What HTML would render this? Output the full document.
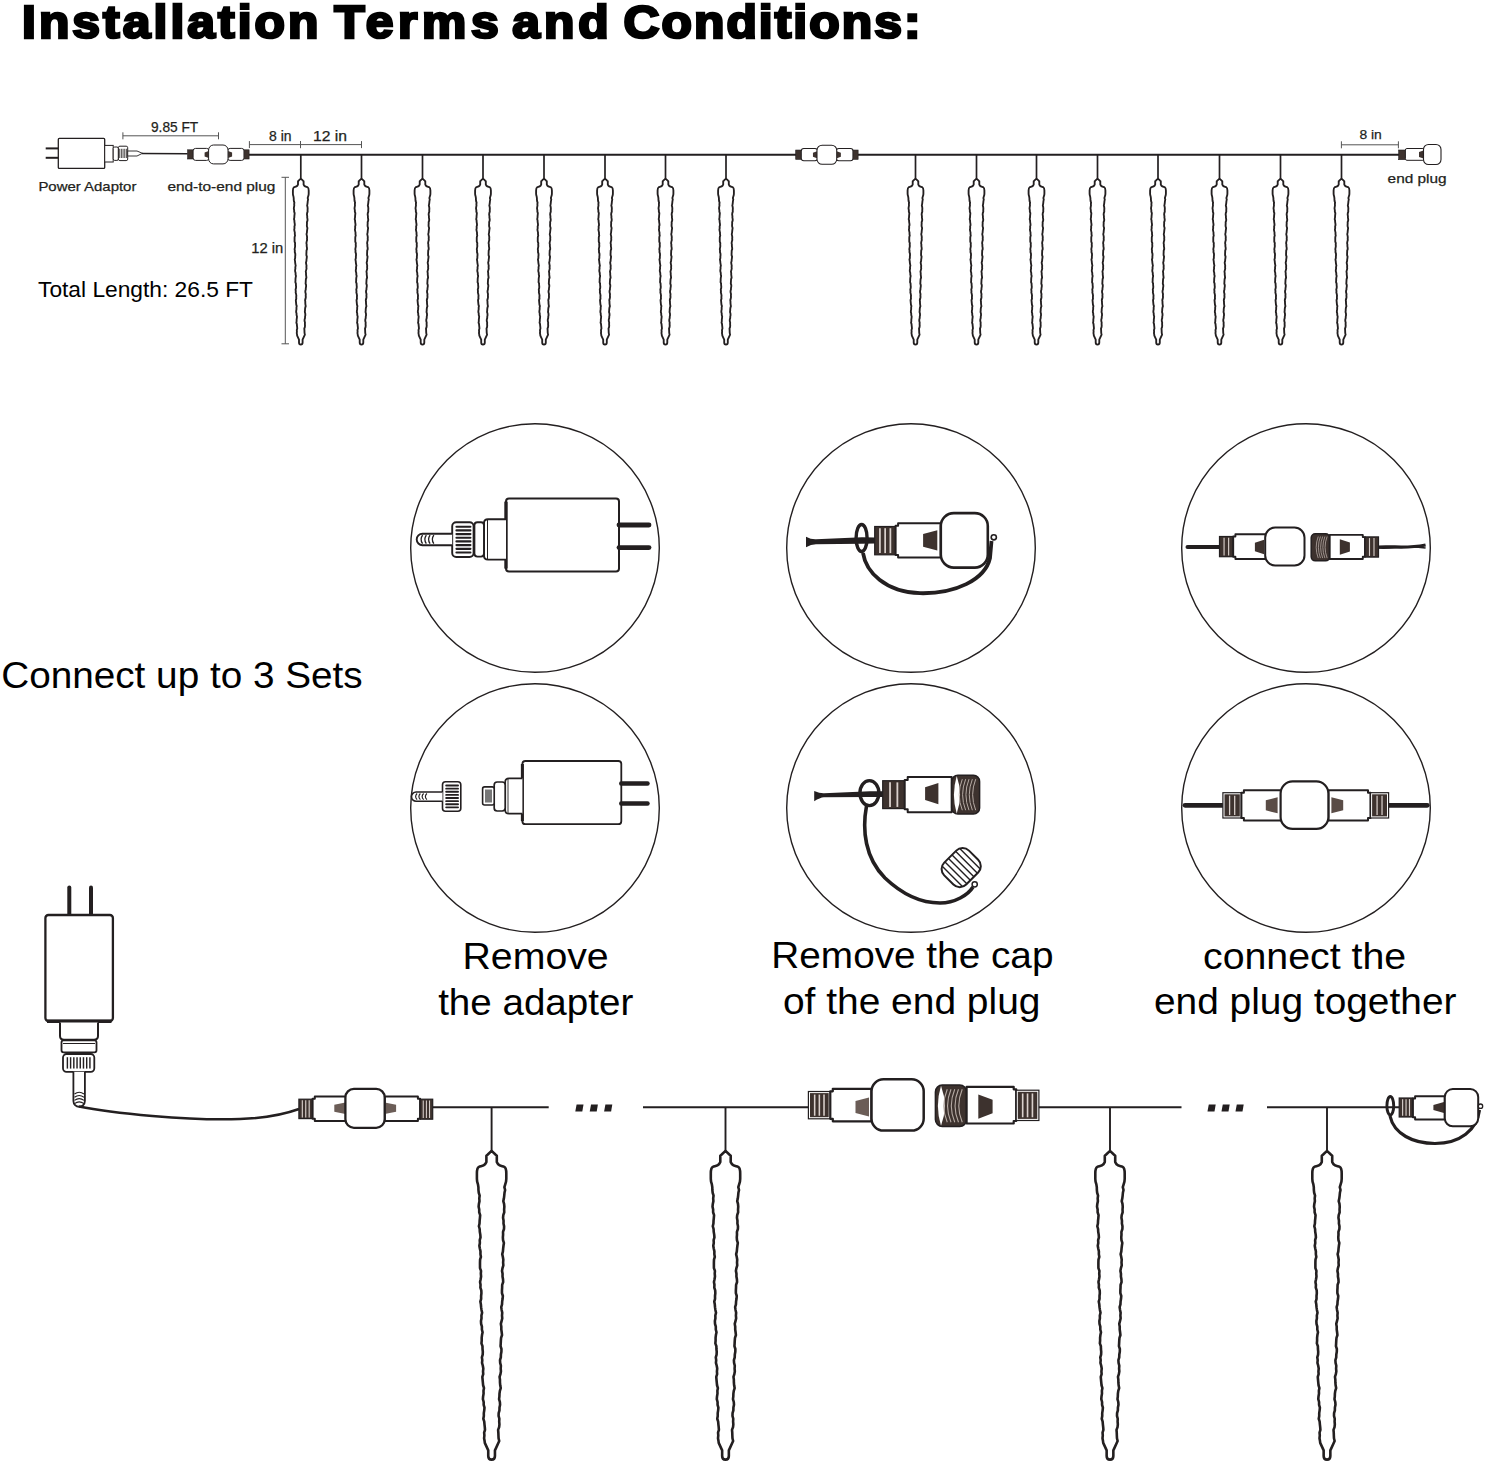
<!DOCTYPE html>
<html><head><meta charset="utf-8"><style>
html,body{margin:0;padding:0;background:#fff;}
svg{display:block;}
#ic{fill:#fff;stroke:#231f20;stroke-linejoin:round;}
text{font-family:"Liberation Sans", sans-serif;}
</style></head><body>
<svg width="1486" height="1464" viewBox="0 0 1486 1464">
<defs><path id="ic" d="M0 0 L2.2 2.1 L2.8 2.6 L2.8 6 L3.6 7.3 C4.3 8.1 5.8 8.2 6.8 8.6 C7.7 9.1 7.9 10.5 7.9 12 L7.90 12.0 L7.90 13.5 L7.90 15.0 L7.76 16.5 L7.33 18.0 L6.88 19.5 L7.27 21.0 L6.94 22.5 L6.80 24.0 L6.62 25.5 L6.30 27.0 L6.71 28.5 L6.85 30.0 L6.74 31.5 L6.80 33.0 L6.29 34.5 L6.15 36.0 L6.44 37.5 L6.40 39.0 L6.71 40.5 L6.66 42.0 L6.14 43.5 L6.18 45.0 L6.06 46.5 L6.16 48.0 L6.62 49.5 L6.39 51.0 L6.21 52.5 L6.09 54.0 L5.72 55.5 L6.06 57.0 L6.30 58.5 L6.19 60.0 L6.31 61.5 L5.87 63.0 L5.60 64.5 L5.90 66.0 L5.87 67.5 L6.14 69.0 L6.22 70.5 L5.69 72.0 L5.66 73.5 L5.57 75.0 L5.57 76.5 L6.06 78.0 L5.92 79.5 L5.68 81.0 L5.61 82.5 L5.18 84.0 L5.40 85.5 L5.72 87.0 L5.59 88.5 L5.73 90.0 L5.36 91.5 L4.97 93.0 L5.23 94.5 L5.22 96.0 L5.43 97.5 L5.61 99.0 L5.10 100.5 L4.98 102.0 L4.91 103.5 L4.81 105.0 L5.30 106.5 L5.27 108.0 L5.00 109.5 L4.96 111.0 L4.52 112.5 L4.61 114.0 L5.00 115.5 L4.89 117.0 L5.02 118.5 L4.76 120.0 L4.28 121.5 L4.49 123.0 L4.50 124.5 L4.64 126.0 L4.92 127.5 L4.45 129.0 L4.24 130.5 L4.20 132.0 L4.02 133.5 L4.46 135.0 L4.56 136.5 L4.25 138.0 L4.23 139.5 L3.80 141.0 L3.76 142.5 L4.17 144.0 L4.09 145.5 L4.21 147.0 L4.05 148.5 L3.50 150.0 L3.63 151.5 L3.68 153.0 L3.75 154.5 L4.10 156.0 L1.8 161 L1.8 164 C1.8 165.4 1 166 0 166 C-1 166 -1.8 165.4 -1.8 164 L-1.8 161 L-3.65 157 L-3.76 156.0 L-4.04 154.5 L-3.88 153.0 L-4.01 151.5 L-3.55 150.0 L-3.66 148.5 L-3.83 147.0 L-3.95 145.5 L-4.44 144.0 L-4.17 142.5 L-4.19 141.0 L-3.96 139.5 L-3.82 138.0 L-4.26 136.5 L-4.26 135.0 L-4.68 133.5 L-4.57 132.0 L-4.31 130.5 L-4.36 129.0 L-4.08 127.5 L-4.55 126.0 L-4.70 124.5 L-4.84 123.0 L-4.97 121.5 L-4.50 120.0 L-4.61 118.5 L-4.46 117.0 L-4.72 115.5 L-5.14 114.0 L-5.01 112.5 L-5.22 111.0 L-4.79 109.5 L-4.72 108.0 L-4.88 106.5 L-4.90 105.0 L-5.45 103.5 L-5.32 102.0 L-5.33 100.5 L-5.16 99.0 L-4.84 97.5 L-5.22 96.0 L-5.21 94.5 L-5.63 93.0 L-5.71 91.5 L-5.42 90.0 L-5.47 88.5 L-5.10 87.0 L-5.42 85.5 L-5.64 84.0 L-5.76 82.5 L-6.05 81.0 L-5.62 79.5 L-5.64 78.0 L-5.47 76.5 L-5.54 75.0 L-6.03 73.5 L-5.95 72.0 L-6.21 70.5 L-5.90 69.0 L-5.66 67.5 L-5.79 66.0 L-5.68 64.5 L-6.23 63.0 L-6.24 61.5 L-6.24 60.0 L-6.19 58.5 L-5.74 57.0 L-6.00 55.5 L-5.97 54.0 L-6.32 52.5 L-6.58 51.0 L-6.30 49.5 L-6.38 48.0 L-5.96 46.5 L-6.08 45.0 L-6.34 43.5 L-6.41 42.0 L-6.83 40.5 L-6.49 39.0 L-6.43 37.5 L-6.27 36.0 L-6.15 34.5 L-6.66 33.0 L-6.65 31.5 L-6.97 30.0 L-6.83 28.5 L-6.51 27.0 L-6.62 25.5 L-6.42 24.0 L-6.90 22.5 L-7.07 21.0 L-7.09 19.5 L-7.33 18.0 L-7.76 16.5 L-7.90 15.0 L-7.90 13.5 L-7.90 12.0 L-7.9 12 C-7.9 10.5 -7.7 9.1 -6.8 8.6 C-5.8 8.2 -4.3 8.1 -3.6 7.3 L-2.8 6 L-2.8 2.6 L-2.2 2.1 Z"/></defs>
<rect width="1486" height="1464" fill="#fff"/>
<line x1="249" y1="154.7" x2="1399" y2="154.7" stroke="#231f20" stroke-width="1.95"/>
<line x1="300.8" y1="154.7" x2="300.8" y2="178.5" stroke="#231f20" stroke-width="1.7"/>
<use href="#ic" transform="translate(300.8 178.6) scale(1.0)" stroke-width="1.850"/>
<line x1="361.5" y1="154.7" x2="361.5" y2="178.5" stroke="#231f20" stroke-width="1.7"/>
<use href="#ic" transform="translate(361.5 178.6) scale(1.0)" stroke-width="1.850"/>
<line x1="422.5" y1="154.7" x2="422.5" y2="178.5" stroke="#231f20" stroke-width="1.7"/>
<use href="#ic" transform="translate(422.5 178.6) scale(1.0)" stroke-width="1.850"/>
<line x1="483" y1="154.7" x2="483" y2="178.5" stroke="#231f20" stroke-width="1.7"/>
<use href="#ic" transform="translate(483 178.6) scale(1.0)" stroke-width="1.850"/>
<line x1="544" y1="154.7" x2="544" y2="178.5" stroke="#231f20" stroke-width="1.7"/>
<use href="#ic" transform="translate(544 178.6) scale(1.0)" stroke-width="1.850"/>
<line x1="605" y1="154.7" x2="605" y2="178.5" stroke="#231f20" stroke-width="1.7"/>
<use href="#ic" transform="translate(605 178.6) scale(1.0)" stroke-width="1.850"/>
<line x1="665.5" y1="154.7" x2="665.5" y2="178.5" stroke="#231f20" stroke-width="1.7"/>
<use href="#ic" transform="translate(665.5 178.6) scale(1.0)" stroke-width="1.850"/>
<line x1="726" y1="154.7" x2="726" y2="178.5" stroke="#231f20" stroke-width="1.7"/>
<use href="#ic" transform="translate(726 178.6) scale(1.0)" stroke-width="1.850"/>
<line x1="915.5" y1="154.7" x2="915.5" y2="178.5" stroke="#231f20" stroke-width="1.7"/>
<use href="#ic" transform="translate(915.5 178.6) scale(1.0)" stroke-width="1.850"/>
<line x1="976.5" y1="154.7" x2="976.5" y2="178.5" stroke="#231f20" stroke-width="1.7"/>
<use href="#ic" transform="translate(976.5 178.6) scale(1.0)" stroke-width="1.850"/>
<line x1="1036.5" y1="154.7" x2="1036.5" y2="178.5" stroke="#231f20" stroke-width="1.7"/>
<use href="#ic" transform="translate(1036.5 178.6) scale(1.0)" stroke-width="1.850"/>
<line x1="1097.5" y1="154.7" x2="1097.5" y2="178.5" stroke="#231f20" stroke-width="1.7"/>
<use href="#ic" transform="translate(1097.5 178.6) scale(1.0)" stroke-width="1.850"/>
<line x1="1158" y1="154.7" x2="1158" y2="178.5" stroke="#231f20" stroke-width="1.7"/>
<use href="#ic" transform="translate(1158 178.6) scale(1.0)" stroke-width="1.850"/>
<line x1="1219.5" y1="154.7" x2="1219.5" y2="178.5" stroke="#231f20" stroke-width="1.7"/>
<use href="#ic" transform="translate(1219.5 178.6) scale(1.0)" stroke-width="1.850"/>
<line x1="1280.5" y1="154.7" x2="1280.5" y2="178.5" stroke="#231f20" stroke-width="1.7"/>
<use href="#ic" transform="translate(1280.5 178.6) scale(1.0)" stroke-width="1.850"/>
<line x1="1341.5" y1="154.7" x2="1341.5" y2="178.5" stroke="#231f20" stroke-width="1.7"/>
<use href="#ic" transform="translate(1341.5 178.6) scale(1.0)" stroke-width="1.850"/>
<rect x="58.3" y="138.4" width="46.4" height="30" rx="1" fill="#fff" stroke="#231f20" stroke-width="1.3"/>
<line x1="45.7" y1="148.4" x2="58.3" y2="148.4" stroke="#231f20" stroke-width="2"/>
<line x1="45.7" y1="157.8" x2="58.3" y2="157.8" stroke="#231f20" stroke-width="2"/>
<rect x="104.7" y="145.4" width="8.5" height="16.6" fill="#fff" stroke="#231f20" stroke-width="1"/>
<rect x="113.2" y="147" width="5.2" height="13.4" rx="1.5" fill="#fff" stroke="#231f20" stroke-width="1"/>
<rect x="118.4" y="146.2" width="9.299999999999997" height="14.400000000000006" rx="1.5" fill="#fff" stroke="#231f20" stroke-width="1.0"/>
<line x1="119.70" y1="148.792" x2="119.70" y2="158.00799999999998" stroke="#231f20" stroke-width="0.80"/>
<line x1="121.38" y1="148.792" x2="121.38" y2="158.00799999999998" stroke="#231f20" stroke-width="0.80"/>
<line x1="123.05" y1="148.792" x2="123.05" y2="158.00799999999998" stroke="#231f20" stroke-width="0.80"/>
<line x1="124.72" y1="148.792" x2="124.72" y2="158.00799999999998" stroke="#231f20" stroke-width="0.80"/>
<line x1="126.40" y1="148.792" x2="126.40" y2="158.00799999999998" stroke="#231f20" stroke-width="0.80"/>
<path d="M127.7 151 L137 151 L142.5 153.3 L137 156 L127.7 156Z" fill="#fff" stroke="#231f20" stroke-width="0.9"/>
<path d="M142 153.5 L187.6 153.8" stroke="#231f20" stroke-width="1.5"/>
<g transform="translate(187.6 154.4) scale(1.0)">
<rect x="0" y="-4.6" width="5.7" height="9.2" fill="#3d322e" stroke="#231f20" stroke-width="0.6"/>
<rect x="5.5" y="-6" width="16" height="12" rx="2.5" fill="#fff" stroke="#231f20" stroke-width="1"/>
<rect x="40" y="-6" width="16.5" height="12" rx="2.5" fill="#fff" stroke="#231f20" stroke-width="1"/>
<rect x="56.5" y="-4.6" width="5" height="9.2" fill="#3d322e" stroke="#231f20" stroke-width="0.6"/>
<path d="M17 -2 L21 -3.5 L21 3.5 L17 2Z" fill="#3d322e"/>
<path d="M44.5 -2 L40.5 -3.5 L40.5 3.5 L44.5 2Z" fill="#3d322e"/>
<rect x="21" y="-9.4" width="19.4" height="18.9" rx="5" fill="#fff" stroke="#231f20" stroke-width="1"/>
</g>
<g transform="translate(795.7 154.7) scale(1.015)">
<rect x="0" y="-4.6" width="5.7" height="9.2" fill="#3d322e" stroke="#231f20" stroke-width="0.6"/>
<rect x="5.5" y="-6" width="16" height="12" rx="2.5" fill="#fff" stroke="#231f20" stroke-width="1"/>
<rect x="40" y="-6" width="16.5" height="12" rx="2.5" fill="#fff" stroke="#231f20" stroke-width="1"/>
<rect x="56.5" y="-4.6" width="5" height="9.2" fill="#3d322e" stroke="#231f20" stroke-width="0.6"/>
<path d="M17 -2 L21 -3.5 L21 3.5 L17 2Z" fill="#3d322e"/>
<path d="M44.5 -2 L40.5 -3.5 L40.5 3.5 L44.5 2Z" fill="#3d322e"/>
<rect x="21" y="-9.4" width="19.4" height="18.9" rx="5" fill="#fff" stroke="#231f20" stroke-width="1"/>
</g>
<rect x="1398.7" y="150" width="6.7" height="9.7" fill="#3d322e" stroke="#231f20" stroke-width="0.6"/>
<rect x="1405.4" y="148.5" width="19" height="11.8" rx="1.5" fill="#fff" stroke="#231f20" stroke-width="1"/>
<path d="M1419 152 L1423.5 150.5 L1423.5 158.5 L1419 157Z" fill="#3d322e"/>
<rect x="1423.5" y="144.5" width="17.5" height="20" rx="5" fill="#fff" stroke="#231f20" stroke-width="1.1"/>
<line x1="122.9" y1="135.8" x2="218.5" y2="135.8" stroke="#555" stroke-width="1"/>
<line x1="122.9" y1="132.3" x2="122.9" y2="139.3" stroke="#555" stroke-width="1"/>
<line x1="218.5" y1="132.3" x2="218.5" y2="139.3" stroke="#555" stroke-width="1"/>
<line x1="249.4" y1="144.6" x2="300.5" y2="144.6" stroke="#555" stroke-width="1"/>
<line x1="249.4" y1="141.1" x2="249.4" y2="148.1" stroke="#555" stroke-width="1"/>
<line x1="300.5" y1="141.1" x2="300.5" y2="148.1" stroke="#555" stroke-width="1"/>
<line x1="300.5" y1="144.6" x2="361.5" y2="144.6" stroke="#555" stroke-width="1"/>
<line x1="300.5" y1="141.1" x2="300.5" y2="148.1" stroke="#555" stroke-width="1"/>
<line x1="361.5" y1="141.1" x2="361.5" y2="148.1" stroke="#555" stroke-width="1"/>
<line x1="1341.4" y1="144.8" x2="1398.4" y2="144.8" stroke="#555" stroke-width="1"/>
<line x1="1341.4" y1="141.3" x2="1341.4" y2="148.3" stroke="#555" stroke-width="1"/>
<line x1="1398.4" y1="141.3" x2="1398.4" y2="148.3" stroke="#555" stroke-width="1"/>
<line x1="285.3" y1="177.3" x2="285.3" y2="343.8" stroke="#555" stroke-width="1"/>
<line x1="281.5" y1="177.3" x2="289" y2="177.3" stroke="#555" stroke-width="1"/>
<line x1="281.5" y1="343.8" x2="289" y2="343.8" stroke="#555" stroke-width="1"/>
<text x="151" y="132" font-size="14.2" font-weight="normal" text-anchor="start" fill="#231f20" textLength="47.2" lengthAdjust="spacingAndGlyphs" stroke="#231f20" stroke-width="0.25">9.85 FT</text>
<text x="269" y="140.5" font-size="14" font-weight="normal" text-anchor="start" fill="#231f20" textLength="22.5" lengthAdjust="spacingAndGlyphs" stroke="#231f20" stroke-width="0.25">8 in</text>
<text x="313" y="140.5" font-size="14" font-weight="normal" text-anchor="start" fill="#231f20" textLength="34" lengthAdjust="spacingAndGlyphs" stroke="#231f20" stroke-width="0.25">12 in</text>
<text x="1359.4" y="139.4" font-size="13.5" font-weight="normal" text-anchor="start" fill="#231f20" textLength="22.4" lengthAdjust="spacingAndGlyphs" stroke="#231f20" stroke-width="0.25">8 in</text>
<text x="38.4" y="191" font-size="13.2" font-weight="normal" text-anchor="start" fill="#231f20" textLength="98" lengthAdjust="spacingAndGlyphs" stroke="#231f20" stroke-width="0.25">Power Adaptor</text>
<text x="167.4" y="191" font-size="13.2" font-weight="normal" text-anchor="start" fill="#231f20" textLength="108" lengthAdjust="spacingAndGlyphs" stroke="#231f20" stroke-width="0.25">end-to-end plug</text>
<text x="1387.6" y="183.3" font-size="13.2" font-weight="normal" text-anchor="start" fill="#231f20" textLength="59" lengthAdjust="spacingAndGlyphs" stroke="#231f20" stroke-width="0.25">end plug</text>
<text x="251.2" y="252.5" font-size="13.8" font-weight="normal" text-anchor="start" fill="#231f20" textLength="32" lengthAdjust="spacingAndGlyphs" stroke="#231f20" stroke-width="0.25">12 in</text>
<text x="38" y="296.5" font-size="22" font-weight="normal" text-anchor="start" fill="#000" textLength="215" lengthAdjust="spacingAndGlyphs" >Total Length: 26.5 FT</text>
<text transform="translate(22.0 37.6) scale(1.06 1)" x="0" y="0" font-size="47" font-weight="bold" fill="#000" stroke="#000" stroke-width="2.7" textLength="279.72" lengthAdjust="spacing">Installation</text>
<text transform="translate(334.3 37.6) scale(1.06 1)" x="0" y="0" font-size="47" font-weight="bold" fill="#000" stroke="#000" stroke-width="2.7" textLength="155.19" lengthAdjust="spacing">Terms</text>
<text transform="translate(512.3 37.6) scale(1.06 1)" x="0" y="0" font-size="47" font-weight="bold" fill="#000" stroke="#000" stroke-width="2.7" textLength="91.04" lengthAdjust="spacing">and</text>
<text transform="translate(623.5 37.6) scale(1.06 1)" x="0" y="0" font-size="47" font-weight="bold" fill="#000" stroke="#000" stroke-width="2.7" textLength="280.19" lengthAdjust="spacing">Conditions:</text>
<circle cx="535" cy="548" r="124.3" fill="none" stroke="#231f20" stroke-width="1.4"/>
<circle cx="535" cy="808" r="124.3" fill="none" stroke="#231f20" stroke-width="1.4"/>
<circle cx="911" cy="548" r="124.3" fill="none" stroke="#231f20" stroke-width="1.4"/>
<circle cx="911" cy="808" r="124.3" fill="none" stroke="#231f20" stroke-width="1.4"/>
<circle cx="1306" cy="548" r="124.3" fill="none" stroke="#231f20" stroke-width="1.4"/>
<circle cx="1306" cy="808" r="124.3" fill="none" stroke="#231f20" stroke-width="1.4"/>
<rect x="506" y="498.6" width="113" height="73.0" rx="3" fill="#fff" stroke="#231f20" stroke-width="2.0"/>
<line x1="506" y1="501.6" x2="506" y2="568.6" stroke="#231f20" stroke-width="3.4"/>
<line x1="619" y1="525" x2="649" y2="525" stroke="#231f20" stroke-width="4.8" stroke-linecap="round"/>
<line x1="619" y1="547.6" x2="649" y2="547.6" stroke="#231f20" stroke-width="4.8" stroke-linecap="round"/>
<path d="M506 519.2 L488 519.2 Q484 519.2 484 523 L484 555.8 Q484 559.6 488 559.6 L506 559.6" fill="#fff" stroke="#231f20" stroke-width="1.9"/>
<line x1="487.5" y1="520" x2="487.5" y2="559" stroke="#231f20" stroke-width="1"/>
<rect x="474.4" y="522.2" width="9.6" height="34.4" rx="3" fill="#fff" stroke="#231f20" stroke-width="1.9"/>
<rect x="452.2" y="522.2" width="21.400000000000034" height="34.799999999999955" rx="4" fill="#fff" stroke="#231f20" stroke-width="1.9"/>
<line x1="456.48" y1="526.72" x2="470.39000000000004" y2="526.72" stroke="#231f20" stroke-width="2.18" stroke-linecap="round"/>
<line x1="456.48" y1="530.40" x2="470.39000000000004" y2="530.40" stroke="#231f20" stroke-width="2.18" stroke-linecap="round"/>
<line x1="456.48" y1="534.08" x2="470.39000000000004" y2="534.08" stroke="#231f20" stroke-width="2.18" stroke-linecap="round"/>
<line x1="456.48" y1="537.76" x2="470.39000000000004" y2="537.76" stroke="#231f20" stroke-width="2.18" stroke-linecap="round"/>
<line x1="456.48" y1="541.44" x2="470.39000000000004" y2="541.44" stroke="#231f20" stroke-width="2.18" stroke-linecap="round"/>
<line x1="456.48" y1="545.12" x2="470.39000000000004" y2="545.12" stroke="#231f20" stroke-width="2.18" stroke-linecap="round"/>
<line x1="456.48" y1="548.80" x2="470.39000000000004" y2="548.80" stroke="#231f20" stroke-width="2.18" stroke-linecap="round"/>
<line x1="456.48" y1="552.48" x2="470.39000000000004" y2="552.48" stroke="#231f20" stroke-width="2.18" stroke-linecap="round"/>
<path d="M452.2 533.7 L422.45 533.7 A5.75 5.75 0 0 0 422.45 545.2 L452.2 545.2" fill="#fff" stroke="#231f20" stroke-width="1.9"/>
<path d="M422.57 535.2 Q419.57 539.45 422.57 543.7" fill="none" stroke="#231f20" stroke-width="1.33"/>
<path d="M426.32 535.2 Q423.32 539.45 426.32 543.7" fill="none" stroke="#231f20" stroke-width="1.33"/>
<path d="M430.07 535.2 Q427.07 539.45 430.07 543.7" fill="none" stroke="#231f20" stroke-width="1.33"/>
<path d="M433.82 535.2 Q430.82 539.45 433.82 543.7" fill="none" stroke="#231f20" stroke-width="1.33"/>
<rect x="522.4" y="761" width="98.89999999999998" height="63.200000000000045" rx="3" fill="#fff" stroke="#231f20" stroke-width="1.8"/>
<line x1="522.4" y1="764" x2="522.4" y2="821.2" stroke="#231f20" stroke-width="3.06"/>
<line x1="621.3" y1="783.6" x2="647.5" y2="783.6" stroke="#231f20" stroke-width="4.5" stroke-linecap="round"/>
<line x1="621.3" y1="803.5" x2="647.5" y2="803.5" stroke="#231f20" stroke-width="4.5" stroke-linecap="round"/>
<path d="M522.4 778.3 L509 778.3 Q505.2 778.3 505.2 782 L505.2 810 Q505.2 813.7 509 813.7 L522.4 813.7" fill="#fff" stroke="#231f20" stroke-width="1.7"/>
<line x1="508" y1="779" x2="508" y2="813" stroke="#231f20" stroke-width="0.9"/>
<rect x="494.2" y="782" width="11" height="29" rx="3" fill="#fff" stroke="#231f20" stroke-width="1.7"/>
<rect x="482.6" y="786.9" width="11.6" height="18.1" rx="2" fill="#fff" stroke="#231f20" stroke-width="1.6"/>
<rect x="485" y="789.5" width="7" height="13" fill="#777"/>
<rect x="442.5" y="781.7" width="18.30000000000001" height="29.5" rx="3" fill="#fff" stroke="#231f20" stroke-width="1.6"/>
<line x1="446.16" y1="785.54" x2="458.055" y2="785.54" stroke="#231f20" stroke-width="1.84" stroke-linecap="round"/>
<line x1="446.16" y1="788.65" x2="458.055" y2="788.65" stroke="#231f20" stroke-width="1.84" stroke-linecap="round"/>
<line x1="446.16" y1="791.77" x2="458.055" y2="791.77" stroke="#231f20" stroke-width="1.84" stroke-linecap="round"/>
<line x1="446.16" y1="794.89" x2="458.055" y2="794.89" stroke="#231f20" stroke-width="1.84" stroke-linecap="round"/>
<line x1="446.16" y1="798.01" x2="458.055" y2="798.01" stroke="#231f20" stroke-width="1.84" stroke-linecap="round"/>
<line x1="446.16" y1="801.13" x2="458.055" y2="801.13" stroke="#231f20" stroke-width="1.84" stroke-linecap="round"/>
<line x1="446.16" y1="804.25" x2="458.055" y2="804.25" stroke="#231f20" stroke-width="1.84" stroke-linecap="round"/>
<line x1="446.16" y1="807.37" x2="458.055" y2="807.37" stroke="#231f20" stroke-width="1.84" stroke-linecap="round"/>
<path d="M442.5 792 L416.1 792 A4.600000000000023 4.600000000000023 0 0 0 416.1 801.2 L442.5 801.2" fill="#fff" stroke="#231f20" stroke-width="1.6"/>
<path d="M417.12 793.5 Q414.12 796.6 417.12 799.7" fill="none" stroke="#231f20" stroke-width="1.12"/>
<path d="M420.38 793.5 Q417.38 796.6 420.38 799.7" fill="none" stroke="#231f20" stroke-width="1.12"/>
<path d="M423.62 793.5 Q420.62 796.6 423.62 799.7" fill="none" stroke="#231f20" stroke-width="1.12"/>
<path d="M426.88 793.5 Q423.88 796.6 426.88 799.7" fill="none" stroke="#231f20" stroke-width="1.12"/>
<line x1="1187.6" y1="547" x2="1220" y2="547" stroke="#231f20" stroke-width="4.2" stroke-linecap="round"/>
<rect x="1219.5" y="536.5" width="13.700000000000045" height="20.200000000000045" fill="#3d322e" stroke="#231f20" stroke-width="1.2"/>
<line x1="1224.07" y1="537.71" x2="1224.07" y2="555.49" stroke="#d9d0cc" stroke-width="1.14"/>
<line x1="1228.63" y1="537.71" x2="1228.63" y2="555.49" stroke="#d9d0cc" stroke-width="1.14"/>
<path d="M1233.2 536.5 L1235.4 536.5 L1235.4 534.3 L1265.8 534.3 L1265.8 559 L1235.4 559 L1235.4 556.8 L1233.2 556.8Z" fill="#fff" stroke="#231f20" stroke-width="1.9" stroke-linejoin="round"/>
<path d="M1254.9 542.8 L1264.1 539.85 L1264.1 554.15 L1254.9 551.2Z" fill="#3d322e"/>
<rect x="1265.2" y="527.6" width="39.299999999999955" height="37.89999999999998" rx="10" fill="#fff" stroke="#231f20" stroke-width="2.0"/>
<rect x="1311.2" y="533.8" width="18.5" height="27.0" rx="4.07" fill="#3d322e" stroke="#231f20" stroke-width="1.5"/>
<path d="M1318.23 536.50 Q1314.16 547.30 1318.23 558.10" fill="none" stroke="#b5aaa4" stroke-width="0.80"/>
<path d="M1320.45 536.50 Q1316.38 547.30 1320.45 558.10" fill="none" stroke="#b5aaa4" stroke-width="0.80"/>
<path d="M1322.67 536.50 Q1318.60 547.30 1322.67 558.10" fill="none" stroke="#b5aaa4" stroke-width="0.80"/>
<path d="M1324.89 536.50 Q1320.82 547.30 1324.89 558.10" fill="none" stroke="#b5aaa4" stroke-width="0.80"/>
<path d="M1327.11 536.50 Q1323.04 547.30 1327.11 558.10" fill="none" stroke="#b5aaa4" stroke-width="0.80"/>
<path d="M1365 537.1 L1362.8 537.1 L1362.8 534.9 L1329.7 534.9 L1329.7 559 L1362.8 559 L1362.8 556.8 L1365 556.8Z" fill="#fff" stroke="#231f20" stroke-width="1.9" stroke-linejoin="round"/>
<path d="M1349.9 542.4 L1339.8 539.25 L1339.8 554.75 L1349.9 551.6Z" fill="#3d322e"/>
<rect x="1365" y="536.9" width="13.5" height="20.200000000000045" fill="#3d322e" stroke="#231f20" stroke-width="1.2"/>
<line x1="1369.50" y1="538.11" x2="1369.50" y2="555.89" stroke="#d9d0cc" stroke-width="1.12"/>
<line x1="1374.00" y1="538.11" x2="1374.00" y2="555.89" stroke="#d9d0cc" stroke-width="1.12"/>
<path d="M1378.5 547 C1395 546 1405 549 1425.6 545" fill="none" stroke="#231f20" stroke-width="3.2"/>
<path d="M1378.5 548 C1395 549 1405 545 1425.6 548" fill="none" stroke="#231f20" stroke-width="1.6"/>
<line x1="1185" y1="805.3" x2="1223" y2="805.3" stroke="#231f20" stroke-width="4.7" stroke-linecap="round"/>
<line x1="1388.6" y1="805.3" x2="1427.3" y2="805.3" stroke="#231f20" stroke-width="4.7" stroke-linecap="round"/>
<rect x="1222.9" y="792.7" width="18.5" height="25.299999999999955" fill="#fff" stroke="#231f20" stroke-width="1.2"/>
<rect x="1224.50" y="794.30" width="15.30" height="22.10" fill="#3d322e"/>
<line x1="1229.60" y1="795.63" x2="1229.60" y2="815.07" stroke="#d9d0cc" stroke-width="1.28"/>
<line x1="1234.70" y1="795.63" x2="1234.70" y2="815.07" stroke="#d9d0cc" stroke-width="1.28"/>
<path d="M1241.4 792.7 L1243.9 792.7 L1243.9 790.2 L1281 790.2 L1281 820.5 L1243.9 820.5 L1243.9 818.0 L1241.4 818.0Z" fill="#fff" stroke="#231f20" stroke-width="2.0" stroke-linejoin="round"/>
<path d="M1265.8 800.25 L1277.6 797.3 L1277.6 813.3 L1265.8 810.3499999999999Z" fill="#5a4c46"/>
<path d="M1370.5 792.7 L1368.0 792.7 L1368.0 790.2 L1328.4 790.2 L1328.4 820.5 L1368.0 820.5 L1368.0 818.0 L1370.5 818.0Z" fill="#fff" stroke="#231f20" stroke-width="2.0" stroke-linejoin="round"/>
<path d="M1343.2 800.25 L1331.4 797.3 L1331.4 813.3 L1343.2 810.3499999999999Z" fill="#5a4c46"/>
<rect x="1370.5" y="792.7" width="18.09999999999991" height="25.299999999999955" fill="#fff" stroke="#231f20" stroke-width="1.2"/>
<rect x="1372.10" y="794.30" width="14.90" height="22.10" fill="#3d322e"/>
<line x1="1377.07" y1="795.63" x2="1377.07" y2="815.07" stroke="#d9d0cc" stroke-width="1.24"/>
<line x1="1382.03" y1="795.63" x2="1382.03" y2="815.07" stroke="#d9d0cc" stroke-width="1.24"/>
<rect x="1280.6" y="781.4" width="47.80000000000018" height="47.5" rx="12" fill="#fff" stroke="#231f20" stroke-width="2.2"/>
<path d="M806 536.8 Q811 539.5 816 539.3 L862 537.3 L875 537.5 L875 543.5 L862 543.8 L816 544.2 Q811 544.2 806 547.2Z" fill="#231f20"/>
<rect x="874.7" y="526.5" width="20.899999999999977" height="28.299999999999955" fill="#3d322e" stroke="#231f20" stroke-width="1.2"/>
<line x1="879.93" y1="528.20" x2="879.93" y2="553.10" stroke="#d9d0cc" stroke-width="1.74"/>
<line x1="885.15" y1="528.20" x2="885.15" y2="553.10" stroke="#d9d0cc" stroke-width="1.74"/>
<line x1="890.38" y1="528.20" x2="890.38" y2="553.10" stroke="#d9d0cc" stroke-width="1.74"/>
<path d="M895.6 525.7 L898.1 525.7 L898.1 523.2 L940.8 523.2 L940.8 557.5 L898.1 557.5 L898.1 555.0 L895.6 555.0Z" fill="#fff" stroke="#231f20" stroke-width="2.0" stroke-linejoin="round"/>
<path d="M923.1 533.9499999999999 L937.3 530.1999999999999 L937.3 550.4 L923.1 546.65Z" fill="#3d322e"/>
<path d="M863 553 C866 572 885 592 920 593.2 C955 594 985 580 990 558 L991.5 541" fill="none" stroke="#231f20" stroke-width="3.8"/>
<rect x="940.8" y="513.1" width="47.0" height="54.5" rx="13" fill="#fff" stroke="#231f20" stroke-width="2.6"/>
<circle cx="993.8" cy="537.3" r="2.6" fill="#fff" stroke="#231f20" stroke-width="1.6"/>
<ellipse cx="861.6" cy="538" rx="5.5" ry="13.5" fill="none" stroke="#231f20" stroke-width="3.4"/>
<path d="M814.2 791 Q820 793.5 824 793.3 L870 791.3 L883 791.3 L883 797 L870 797 L824 797.2 Q820 797.5 814.2 801.2Z" fill="#231f20"/>
<rect x="882.7" y="780.7" width="22.0" height="27.899999999999977" fill="#3d322e" stroke="#231f20" stroke-width="1.2"/>
<line x1="890.03" y1="782.37" x2="890.03" y2="806.93" stroke="#d9d0cc" stroke-width="1.83"/>
<line x1="897.37" y1="782.37" x2="897.37" y2="806.93" stroke="#d9d0cc" stroke-width="1.83"/>
<path d="M904.7 780.1 L907.7 780.1 L907.7 777.1 L951.7 777.1 L951.7 812.2 L907.7 812.2 L907.7 809.2 L904.7 809.2Z" fill="#fff" stroke="#231f20" stroke-width="2.0" stroke-linejoin="round"/>
<path d="M925.1 787.35 L938.4 783.1 L938.4 804.3000000000001 L925.1 800.0500000000001Z" fill="#3d322e"/>
<rect x="951.7" y="775.3" width="27.899999999999977" height="38.80000000000007" rx="6.14" fill="#3d322e" stroke="#231f20" stroke-width="1.5"/>
<path d="M956.72 775.9 Q963.42 794.7 956.72 813.5 Q951.14 794.7 956.72 775.9Z" fill="#fff"/>
<path d="M962.30 779.18 Q956.16 794.70 962.30 810.22" fill="none" stroke="#b5aaa4" stroke-width="1.00"/>
<path d="M965.65 779.18 Q959.51 794.70 965.65 810.22" fill="none" stroke="#b5aaa4" stroke-width="1.00"/>
<path d="M969.00 779.18 Q962.86 794.70 969.00 810.22" fill="none" stroke="#b5aaa4" stroke-width="1.00"/>
<path d="M972.35 779.18 Q966.21 794.70 972.35 810.22" fill="none" stroke="#b5aaa4" stroke-width="1.00"/>
<path d="M975.69 779.18 Q969.56 794.70 975.69 810.22" fill="none" stroke="#b5aaa4" stroke-width="1.00"/>
<path d="M866.5 806 C862 830 865 858 885 878 C905 897 925 903 940 903 C955 903 968 895 973 887" fill="none" stroke="#231f20" stroke-width="3.6"/>
<ellipse cx="869.4" cy="793.1" rx="9.5" ry="12.5" fill="none" stroke="#231f20" stroke-width="3.4"/>
<g transform="translate(961.2 867.6) rotate(45)">
<clipPath id="cc5"><rect x="-15.5" y="-17.5" width="31" height="35" rx="9"/></clipPath>
<rect x="-15.5" y="-17.5" width="31" height="35" rx="9" fill="#fff" stroke="#231f20" stroke-width="2"/>
<g clip-path="url(#cc5)">
<line x1="-19" y1="-12.50" x2="19" y2="-12.50" stroke="#231f20" stroke-width="1.4"/>
<line x1="-19" y1="-7.50" x2="19" y2="-7.50" stroke="#231f20" stroke-width="1.4"/>
<line x1="-19" y1="-2.50" x2="19" y2="-2.50" stroke="#231f20" stroke-width="1.4"/>
<line x1="-19" y1="2.50" x2="19" y2="2.50" stroke="#231f20" stroke-width="1.4"/>
<line x1="-19" y1="7.50" x2="19" y2="7.50" stroke="#231f20" stroke-width="1.4"/>
<line x1="-19" y1="12.50" x2="19" y2="12.50" stroke="#231f20" stroke-width="1.4"/>
</g></g>
<circle cx="974.7" cy="884.3" r="2.6" fill="#fff" stroke="#231f20" stroke-width="1.5"/>
<text x="1.2" y="688.3" font-size="37.8" font-weight="normal" text-anchor="start" fill="#000" textLength="361.5" lengthAdjust="spacingAndGlyphs" >Connect up to 3 Sets</text>
<text x="535.6" y="968.8" font-size="36" font-weight="normal" text-anchor="middle" fill="#000" textLength="146.3" lengthAdjust="spacingAndGlyphs" >Remove</text>
<text x="535.7" y="1015" font-size="36" font-weight="normal" text-anchor="middle" fill="#000" textLength="195.1" lengthAdjust="spacingAndGlyphs" >the adapter</text>
<text x="912.4" y="968.4" font-size="36" font-weight="normal" text-anchor="middle" fill="#000" textLength="282.1" lengthAdjust="spacingAndGlyphs" >Remove the cap</text>
<text x="911.7" y="1014.4" font-size="36" font-weight="normal" text-anchor="middle" fill="#000" textLength="257.5" lengthAdjust="spacingAndGlyphs" >of the end plug</text>
<text x="1304.6" y="968.6" font-size="36" font-weight="normal" text-anchor="middle" fill="#000" textLength="203.2" lengthAdjust="spacingAndGlyphs" >connect the</text>
<text x="1305.2" y="1014.4" font-size="36" font-weight="normal" text-anchor="middle" fill="#000" textLength="302.5" lengthAdjust="spacingAndGlyphs" >end plug together</text>
<line x1="432.7" y1="1107.3" x2="548.7" y2="1107.3" stroke="#231f20" stroke-width="2.1"/>
<line x1="643" y1="1107.3" x2="808.4" y2="1107.3" stroke="#231f20" stroke-width="2.1"/>
<line x1="1037.5" y1="1107.3" x2="1181.5" y2="1107.3" stroke="#231f20" stroke-width="2.1"/>
<line x1="1267" y1="1107.3" x2="1399.5" y2="1107.3" stroke="#231f20" stroke-width="2.1"/>
<path d="M576.5999999999999 1104.5 L583.5 1104.5 L582.3 1111.5 L575.3 1111.5Z" fill="#231f20"/>
<path d="M591.0 1104.5 L597.9000000000001 1104.5 L596.7 1111.5 L589.7 1111.5Z" fill="#231f20"/>
<path d="M605.4 1104.5 L612.3000000000001 1104.5 L611.1 1111.5 L604.1 1111.5Z" fill="#231f20"/>
<path d="M1208.8 1104.5 L1215.7 1104.5 L1214.5 1111.5 L1207.5 1111.5Z" fill="#231f20"/>
<path d="M1222.8 1104.5 L1229.7 1104.5 L1228.5 1111.5 L1221.5 1111.5Z" fill="#231f20"/>
<path d="M1236.8 1104.5 L1243.7 1104.5 L1242.5 1111.5 L1235.5 1111.5Z" fill="#231f20"/>
<line x1="491.6" y1="1107.3" x2="491.6" y2="1151" stroke="#231f20" stroke-width="1.9"/>
<use href="#ic" transform="translate(491.6 1150.9) scale(1.86)" stroke-width="1.398"/>
<line x1="725.5" y1="1107.3" x2="725.5" y2="1151" stroke="#231f20" stroke-width="1.9"/>
<use href="#ic" transform="translate(725.5 1150.9) scale(1.86)" stroke-width="1.398"/>
<line x1="1110" y1="1107.3" x2="1110" y2="1151" stroke="#231f20" stroke-width="1.9"/>
<use href="#ic" transform="translate(1110 1150.9) scale(1.86)" stroke-width="1.398"/>
<line x1="1327" y1="1107.3" x2="1327" y2="1151" stroke="#231f20" stroke-width="1.9"/>
<use href="#ic" transform="translate(1327 1150.9) scale(1.86)" stroke-width="1.398"/>
<line x1="69.3" y1="887.5" x2="69.3" y2="915" stroke="#231f20" stroke-width="4" stroke-linecap="round"/>
<line x1="91" y1="887.5" x2="91" y2="915" stroke="#231f20" stroke-width="4" stroke-linecap="round"/>
<rect x="45.4" y="915" width="67.5" height="106" rx="3" fill="#fff" stroke="#231f20" stroke-width="2.3"/>
<line x1="47" y1="1021.2" x2="111.5" y2="1021.2" stroke="#231f20" stroke-width="3.6"/>
<path d="M60 1022.5 L60 1036 Q60 1039.8 64 1039.8 L94 1039.8 Q98 1039.8 98 1036 L98 1022.5" fill="#fff" stroke="#231f20" stroke-width="2"/>
<rect x="61.5" y="1040.3" width="35" height="12" rx="2" fill="#fff" stroke="#231f20" stroke-width="1.8"/>
<line x1="63" y1="1043.5" x2="95" y2="1043.5" stroke="#231f20" stroke-width="1"/>
<rect x="63" y="1054" width="31.299999999999997" height="17.799999999999955" rx="3.5" fill="#fff" stroke="#231f20" stroke-width="1.8"/>
<line x1="67.38" y1="1057.204" x2="67.38" y2="1068.596" stroke="#231f20" stroke-width="1.44"/>
<line x1="70.60" y1="1057.204" x2="70.60" y2="1068.596" stroke="#231f20" stroke-width="1.44"/>
<line x1="73.82" y1="1057.204" x2="73.82" y2="1068.596" stroke="#231f20" stroke-width="1.44"/>
<line x1="77.04" y1="1057.204" x2="77.04" y2="1068.596" stroke="#231f20" stroke-width="1.44"/>
<line x1="80.26" y1="1057.204" x2="80.26" y2="1068.596" stroke="#231f20" stroke-width="1.44"/>
<line x1="83.48" y1="1057.204" x2="83.48" y2="1068.596" stroke="#231f20" stroke-width="1.44"/>
<line x1="86.70" y1="1057.204" x2="86.70" y2="1068.596" stroke="#231f20" stroke-width="1.44"/>
<line x1="89.92" y1="1057.204" x2="89.92" y2="1068.596" stroke="#231f20" stroke-width="1.44"/>
<path d="M73.4 1071.8 L73.4 1101 A5.75 5.75 0 0 0 84.9 1101 L84.9 1071.8" fill="#fff" stroke="#231f20" stroke-width="1.8"/>
<path d="M74.5 1094.0 Q79.2 1090.5 84 1094.0" fill="none" stroke="#231f20" stroke-width="1.1"/>
<path d="M74.5 1097.2 Q79.2 1093.7 84 1097.2" fill="none" stroke="#231f20" stroke-width="1.1"/>
<path d="M74.5 1100.4 Q79.2 1096.9 84 1100.4" fill="none" stroke="#231f20" stroke-width="1.1"/>
<path d="M74.5 1103.6 Q79.2 1100.1 84 1103.6" fill="none" stroke="#231f20" stroke-width="1.1"/>
<path d="M79 1106.5 C110 1113 190 1121 240 1119 C270 1118 288 1113 299 1109" fill="none" stroke="#231f20" stroke-width="2.5"/>
<rect x="298.9" y="1099.2" width="13.700000000000045" height="19.399999999999864" fill="#3d322e" stroke="#231f20" stroke-width="1.2"/>
<line x1="302.32" y1="1100.36" x2="302.32" y2="1117.44" stroke="#d9d0cc" stroke-width="1.14"/>
<line x1="305.75" y1="1100.36" x2="305.75" y2="1117.44" stroke="#d9d0cc" stroke-width="1.14"/>
<line x1="309.18" y1="1100.36" x2="309.18" y2="1117.44" stroke="#d9d0cc" stroke-width="1.14"/>
<path d="M312.6 1098.7 L314.8 1098.7 L314.8 1096.5 L346.4 1096.5 L346.4 1120.9 L314.8 1120.9 L314.8 1118.7 L312.6 1118.7Z" fill="#fff" stroke="#231f20" stroke-width="2.0" stroke-linejoin="round"/>
<path d="M334.3 1104.7 L345.4 1102.5 L345.4 1113.9 L334.3 1111.7Z" fill="#6b5d57"/>
<path d="M420.1 1098.7 L417.90000000000003 1098.7 L417.90000000000003 1096.5 L384.7 1096.5 L384.7 1120.9 L417.90000000000003 1120.9 L417.90000000000003 1118.7 L420.1 1118.7Z" fill="#fff" stroke="#231f20" stroke-width="2.0" stroke-linejoin="round"/>
<path d="M396.1 1104.7 L384.7 1102.5 L384.7 1113.9 L396.1 1111.7Z" fill="#6b5d57"/>
<rect x="420.1" y="1099.2" width="12.599999999999966" height="20.0" fill="#3d322e" stroke="#231f20" stroke-width="1.2"/>
<line x1="423.25" y1="1100.40" x2="423.25" y2="1118.00" stroke="#d9d0cc" stroke-width="1.05"/>
<line x1="426.40" y1="1100.40" x2="426.40" y2="1118.00" stroke="#d9d0cc" stroke-width="1.05"/>
<line x1="429.55" y1="1100.40" x2="429.55" y2="1118.00" stroke="#d9d0cc" stroke-width="1.05"/>
<rect x="345.4" y="1088.9" width="39.30000000000001" height="38.899999999999864" rx="8.5" fill="#fff" stroke="#231f20" stroke-width="2.3"/>
<rect x="808.4" y="1091.5" width="21.899999999999977" height="27.299999999999955" fill="#fff" stroke="#231f20" stroke-width="1.2"/>
<rect x="810.00" y="1093.10" width="18.70" height="24.10" fill="#3d322e"/>
<line x1="814.67" y1="1094.55" x2="814.67" y2="1115.75" stroke="#d9d0cc" stroke-width="1.56"/>
<line x1="819.35" y1="1094.55" x2="819.35" y2="1115.75" stroke="#d9d0cc" stroke-width="1.56"/>
<line x1="824.02" y1="1094.55" x2="824.02" y2="1115.75" stroke="#d9d0cc" stroke-width="1.56"/>
<path d="M830.3 1091.3 L832.8 1091.3 L832.8 1088.8 L871.5 1088.8 L871.5 1121.3 L832.8 1121.3 L832.8 1118.8 L830.3 1118.8Z" fill="#fff" stroke="#231f20" stroke-width="2.2" stroke-linejoin="round"/>
<path d="M855.5 1101.1 L869 1097.55 L869 1116.45 L855.5 1112.9Z" fill="#6b5d57"/>
<rect x="871.5" y="1079.3" width="52.200000000000045" height="51.299999999999955" rx="12" fill="#fff" stroke="#231f20" stroke-width="2.5"/>
<rect x="935.4" y="1085.1" width="31.200000000000045" height="41.30000000000018" rx="6.86" fill="#3d322e" stroke="#231f20" stroke-width="1.5"/>
<path d="M941.02 1085.6999999999998 Q948.50 1105.75 941.02 1125.8000000000002 Q934.78 1105.75 941.02 1085.6999999999998Z" fill="#fff"/>
<path d="M947.26 1089.23 Q940.39 1105.75 947.26 1122.27" fill="none" stroke="#b5aaa4" stroke-width="1.11"/>
<path d="M951.00 1089.23 Q944.14 1105.75 951.00 1122.27" fill="none" stroke="#b5aaa4" stroke-width="1.11"/>
<path d="M954.74 1089.23 Q947.88 1105.75 954.74 1122.27" fill="none" stroke="#b5aaa4" stroke-width="1.11"/>
<path d="M958.49 1089.23 Q951.62 1105.75 958.49 1122.27" fill="none" stroke="#b5aaa4" stroke-width="1.11"/>
<path d="M962.23 1089.23 Q955.37 1105.75 962.23 1122.27" fill="none" stroke="#b5aaa4" stroke-width="1.11"/>
<path d="M1016.2 1089.3 L1013.7 1089.3 L1013.7 1086.8 L966.6 1086.8 L966.6 1123.5 L1013.7 1123.5 L1013.7 1121.0 L1016.2 1121.0Z" fill="#fff" stroke="#231f20" stroke-width="2.2" stroke-linejoin="round"/>
<path d="M992.6 1099.85 L978.3 1094.3999999999999 L978.3 1118.8 L992.6 1113.35Z" fill="#3d322e"/>
<rect x="1016.2" y="1090.2" width="22.700000000000045" height="30.299999999999955" fill="#fff" stroke="#231f20" stroke-width="1.2"/>
<rect x="1017.80" y="1091.80" width="19.50" height="27.10" fill="#3d322e"/>
<line x1="1022.68" y1="1093.43" x2="1022.68" y2="1117.27" stroke="#d9d0cc" stroke-width="1.63"/>
<line x1="1027.55" y1="1093.43" x2="1027.55" y2="1117.27" stroke="#d9d0cc" stroke-width="1.63"/>
<line x1="1032.43" y1="1093.43" x2="1032.43" y2="1117.27" stroke="#d9d0cc" stroke-width="1.63"/>
<rect x="1399.2" y="1098" width="13.700000000000045" height="19" fill="#3d322e" stroke="#231f20" stroke-width="1.2"/>
<line x1="1402.62" y1="1099.14" x2="1402.62" y2="1115.86" stroke="#d9d0cc" stroke-width="1.14"/>
<line x1="1406.05" y1="1099.14" x2="1406.05" y2="1115.86" stroke="#d9d0cc" stroke-width="1.14"/>
<line x1="1409.48" y1="1099.14" x2="1409.48" y2="1115.86" stroke="#d9d0cc" stroke-width="1.14"/>
<path d="M1412.9 1098.4 L1415.1000000000001 1098.4 L1415.1000000000001 1096.2 L1444.8 1096.2 L1444.8 1119.4 L1415.1000000000001 1119.4 L1415.1000000000001 1117.2 L1412.9 1117.2Z" fill="#fff" stroke="#231f20" stroke-width="2.0" stroke-linejoin="round"/>
<path d="M1433.4 1105.0 L1444.8 1101.8 L1444.8 1113.2 L1433.4 1110.0Z" fill="#3d322e"/>
<path d="M1390 1116 C1394 1134 1413 1143.5 1435 1143.5 C1460 1143.5 1477 1130 1479.5 1110" fill="none" stroke="#231f20" stroke-width="3.2"/>
<rect x="1444.8" y="1089" width="33.40000000000009" height="37.299999999999955" rx="8" fill="#fff" stroke="#231f20" stroke-width="2.0"/>
<circle cx="1480.5" cy="1106.2" r="2.2" fill="#fff" stroke="#231f20" stroke-width="1.3"/>
<ellipse cx="1390.3" cy="1105.7" rx="3.4" ry="9.2" fill="none" stroke="#231f20" stroke-width="2.9"/>
</svg></body></html>
